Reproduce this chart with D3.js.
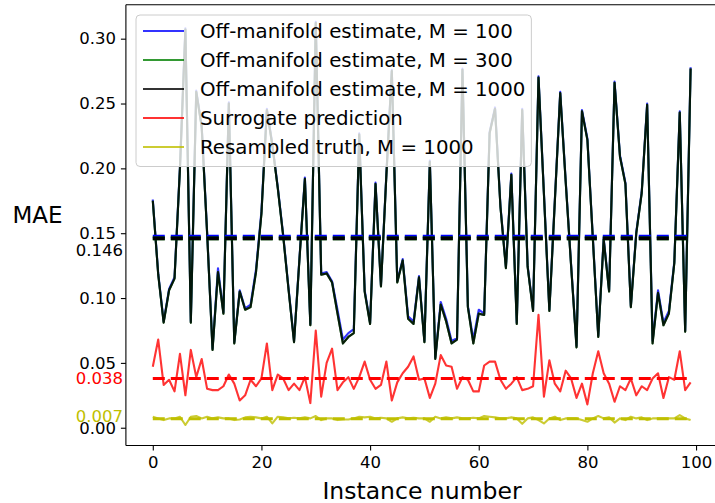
<!DOCTYPE html>
<html>
<head>
<meta charset="utf-8">
<script src="https://cdn.jsdelivr.net/npm/d3@7"></script>
<style>
  body { margin: 0; background: white; }
  svg { font-family: "DejaVu Sans", sans-serif; }
</style>
</head>
<body>
<div id="chart"></div>
<script>
// MAE per instance
var offM100 = [0.176,0.119,0.082,0.107,0.116,0.201,0.308,0.082,0.260,0.233,
  0.151,0.061,0.123,0.089,0.251,0.066,0.106,0.092,0.095,0.122,
  0.167,0.246,0.219,0.186,0.149,0.107,0.067,0.131,0.193,0.080,
  0.313,0.119,0.120,0.113,0.091,0.068,0.073,0.076,0.227,0.106,
  0.081,0.189,0.110,0.196,0.276,0.113,0.130,0.086,0.082,0.117,
  0.067,0.206,0.054,0.097,0.084,0.067,0.069,0.277,0.094,0.068,
  0.091,0.088,0.228,0.247,0.171,0.124,0.196,0.081,0.246,0.125,
  0.091,0.271,0.181,0.091,0.175,0.259,0.191,0.126,0.063,0.245,
  0.223,0.147,0.071,0.146,0.106,0.267,0.210,0.189,0.094,0.151,
  0.182,0.250,0.067,0.106,0.081,0.090,0.128,0.244,0.075,0.278];

var offM300 = [0.175,0.118,0.081,0.106,0.115,0.200,0.307,0.081,0.259,0.232,
  0.150,0.060,0.120,0.088,0.250,0.065,0.105,0.091,0.093,0.120,
  0.165,0.245,0.218,0.185,0.148,0.106,0.066,0.130,0.192,0.079,
  0.312,0.118,0.119,0.112,0.088,0.065,0.070,0.073,0.226,0.105,
  0.080,0.188,0.109,0.195,0.275,0.112,0.129,0.084,0.080,0.116,
  0.066,0.205,0.053,0.095,0.082,0.065,0.068,0.276,0.093,0.065,
  0.088,0.087,0.227,0.246,0.170,0.123,0.195,0.080,0.245,0.124,
  0.090,0.270,0.180,0.090,0.174,0.258,0.190,0.125,0.062,0.244,
  0.222,0.146,0.070,0.145,0.105,0.266,0.209,0.188,0.093,0.150,
  0.181,0.249,0.065,0.104,0.079,0.088,0.127,0.243,0.074,0.277];

var offM1000 = [0.175,0.118,0.081,0.106,0.115,0.200,0.307,0.081,0.259,0.232,
  0.150,0.060,0.120,0.088,0.250,0.065,0.105,0.091,0.093,0.120,
  0.165,0.245,0.218,0.185,0.148,0.106,0.066,0.130,0.192,0.079,
  0.312,0.118,0.119,0.112,0.088,0.065,0.070,0.073,0.226,0.105,
  0.080,0.188,0.109,0.195,0.275,0.112,0.129,0.084,0.080,0.116,
  0.066,0.205,0.053,0.095,0.082,0.065,0.068,0.276,0.093,0.065,
  0.088,0.087,0.227,0.246,0.170,0.123,0.195,0.080,0.245,0.124,
  0.090,0.270,0.180,0.090,0.174,0.258,0.190,0.125,0.062,0.244,
  0.222,0.146,0.070,0.145,0.105,0.266,0.209,0.188,0.093,0.150,
  0.181,0.249,0.065,0.104,0.079,0.088,0.127,0.243,0.074,0.277];

var surrogate = [0.047,0.068,0.033,0.037,0.028,0.057,0.025,0.060,0.039,0.053,
  0.030,0.029,0.029,0.032,0.041,0.034,0.021,0.025,0.037,0.032,
  0.038,0.065,0.029,0.041,0.038,0.029,0.034,0.029,0.039,0.019,
  0.075,0.024,0.050,0.061,0.029,0.035,0.039,0.030,0.039,0.051,
  0.037,0.030,0.033,0.051,0.021,0.035,0.042,0.047,0.055,0.037,
  0.038,0.023,0.034,0.056,0.048,0.047,0.030,0.039,0.037,0.028,
  0.028,0.048,0.051,0.051,0.037,0.030,0.034,0.039,0.029,0.030,
  0.032,0.087,0.024,0.052,0.034,0.028,0.044,0.038,0.023,0.034,
  0.018,0.042,0.059,0.042,0.034,0.020,0.032,0.029,0.038,0.025,
  0.032,0.029,0.038,0.042,0.023,0.039,0.037,0.059,0.029,0.035];

var resampled = [0.0085,0.0072,0.0059,0.0072,0.0072,0.0085,0.0021,0.0085,0.0090,0.0072,
  0.0085,0.0072,0.0080,0.0072,0.0072,0.0059,0.0064,0.0080,0.0085,0.0080,
  0.0072,0.0085,0.0033,0.0085,0.0080,0.0072,0.0077,0.0072,0.0080,0.0072,
  0.0090,0.0059,0.0072,0.0072,0.0059,0.0064,0.0064,0.0072,0.0085,0.0080,
  0.0085,0.0072,0.0077,0.0072,0.0046,0.0072,0.0080,0.0072,0.0077,0.0072,
  0.0072,0.0046,0.0085,0.0072,0.0080,0.0072,0.0080,0.0072,0.0072,0.0077,
  0.0072,0.0090,0.0085,0.0080,0.0072,0.0072,0.0080,0.0072,0.0030,0.0072,
  0.0080,0.0059,0.0033,0.0072,0.0085,0.0059,0.0072,0.0072,0.0072,0.0059,
  0.0046,0.0072,0.0090,0.0072,0.0080,0.0040,0.0072,0.0059,0.0085,0.0072,
  0.0080,0.0059,0.0072,0.0072,0.0072,0.0072,0.0072,0.0098,0.0072,0.0059];

var seriesNames = ["Off-manifold estimate, M = 100", "Off-manifold estimate, M = 300",
  "Off-manifold estimate, M = 1000", "Surrogate prediction", "Resampled truth, M = 1000"];
var seriesColors = ["#0000ff", "#008000", "#000000", "#ff0000", "#bfbf00"];
var seriesMeans = [0.1475, 0.146, 0.146, 0.038, 0.007];

var yTicks = [0.00, 0.05, 0.10, 0.15, 0.20, 0.25, 0.30];
var xTicks = [0, 20, 40, 60, 80, 100];
var meanLabels = ["0.146", "0.038", "0.007"];
var meanLabelColors = ["#000000", "#ff0000", "#bfbf00"];

function init() {
  var width = 715, height = 503;
  var left = 125.9, top = 4.7, bottom = 445.5, right = 717.5;

  var svg = d3.select("#chart").append("svg")
    .attr("width", width)
    .attr("height", height);

  var xScale = d3.scaleLinear().domain([-4.95, 103.95]).range([left, right]);
  var yScale = d3.scaleLinear().domain([-0.0137, 0.3262]).range([bottom, top]);

  var allSeries = [offM100, offM300, offM1000, surrogate, resampled];

  var line = d3.line()
    .x(function(d, i) { return xScale(i); })
    .y(function(d) { return yScale(d); });

  var plot = svg.append("g");

  allSeries.forEach(function(s, k) {
    plot.append("path")
      .datum(s)
      .attr("d", line)
      .style("fill", "none")
      .style("stroke", seriesColors[k])
      .style("stroke-opacity", 0.8)
      .style("stroke-width", 2.1)
      .style("stroke-linejoin", "round");
  });

  // dashed mean lines
  var n = offM1000.length;
  seriesMeans.forEach(function(m, k) {
    plot.append("line")
      .attr("x1", xScale(0))
      .attr("x2", xScale(n - 1))
      .attr("y1", yScale(m))
      .attr("y2", yScale(m))
      .style("stroke", seriesColors[k])
      .style("stroke-width", k < 3 ? 3.6 : 3)
      .style("stroke-dasharray", "12,6");
  });

  // axes
  var xAxis = d3.axisBottom(xScale).tickValues(xTicks).tickSize(5).tickPadding(6);
  var yAxis = d3.axisLeft(yScale).tickValues(yTicks).tickSize(5).tickPadding(5)
    .tickFormat(d3.format(".2f"));

  svg.append("g")
    .attr("transform", "translate(0," + bottom + ")")
    .call(xAxis);

  svg.append("g")
    .attr("transform", "translate(" + left + ",0)")
    .call(yAxis);

  svg.selectAll(".tick text")
    .style("font-size", "16.5px")
    .style("font-family", "DejaVu Sans")
    .style("fill", "#000");
  svg.selectAll(".domain").remove();
  svg.selectAll(".tick line").style("stroke", "#000").style("stroke-width", 1.1);

  // spines
  svg.append("line").attr("x1", left).attr("x2", left).attr("y1", top).attr("y2", bottom)
    .style("stroke", "#000").style("stroke-width", 1.1);
  svg.append("line").attr("x1", left).attr("x2", right).attr("y1", bottom).attr("y2", bottom)
    .style("stroke", "#000").style("stroke-width", 1.1);
  svg.append("line").attr("x1", left).attr("x2", right).attr("y1", top).attr("y2", top)
    .style("stroke", "#000").style("stroke-width", 1.1);

  // mean value labels on the y axis
  var meanLabelY = [250, 378.5, 416.5];
  meanLabels.forEach(function(t, k) {
    svg.append("text")
      .attr("x", 123)
      .attr("y", meanLabelY[k])
      .attr("dy", "0.35em")
      .attr("text-anchor", "end")
      .style("font-size", "16.5px")
      .style("fill", meanLabelColors[k])
      .text(t);
  });

  svg.append("text")
    .attr("x", 37.5)
    .attr("y", 223)
    .attr("text-anchor", "middle")
    .style("font-size", "23px")
    .text("MAE");

  svg.append("text")
    .attr("x", 422)
    .attr("y", 498.5)
    .attr("text-anchor", "middle")
    .style("font-size", "23.5px")
    .text("Instance number");

  // legend
  var legend = svg.append("g");
  var box = legend.append("rect")
    .attr("x", 136)
    .attr("y", 15)
    .attr("rx", 4)
    .attr("height", 151.5)
    .style("fill", "white")
    .style("fill-opacity", 0.8)
    .style("stroke", "#cccccc")
    .style("stroke-width", 1);

  var maxW = 0;
  seriesNames.forEach(function(name, k) {
    var cy = 31 + k * 29;
    legend.append("line")
      .attr("x1", 143).attr("x2", 184)
      .attr("y1", cy).attr("y2", cy)
      .style("stroke", seriesColors[k])
      .style("stroke-opacity", 0.8)
      .style("stroke-width", 2.1);
    var t = legend.append("text")
      .attr("x", 200)
      .attr("y", cy)
      .attr("dy", "0.35em")
      .style("font-size", "19.8px")
      .text(name);
    maxW = Math.max(maxW, t.node().getComputedTextLength());
  });
  box.attr("width", 200 + maxW + 6 - 136);
}

window.onload = init;
</script>
</body>
</html>
